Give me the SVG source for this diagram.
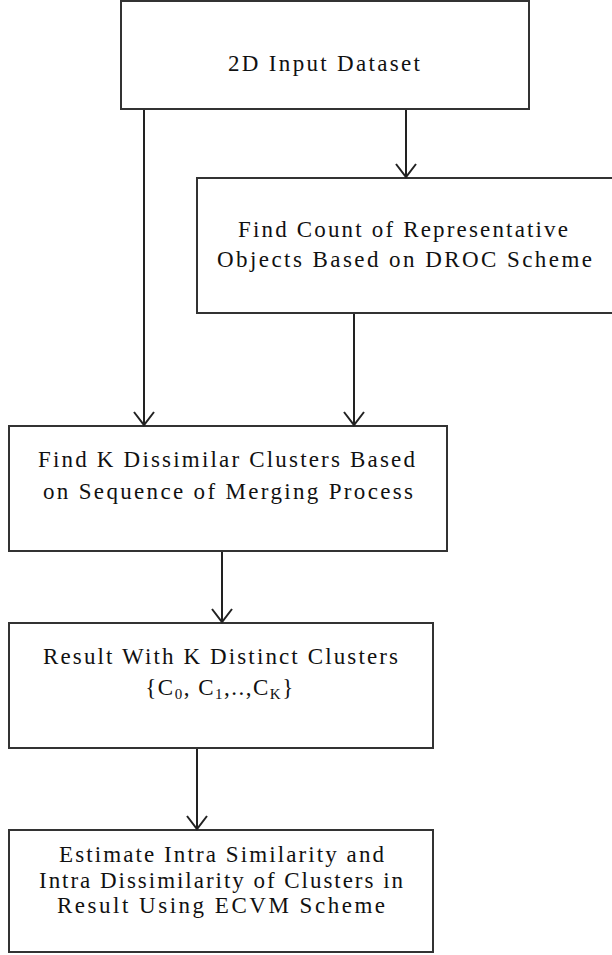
<svg xmlns="http://www.w3.org/2000/svg" width="612" height="955" viewBox="0 0 612 955">
<style>
  .box { fill: #ffffff; stroke: #333333; stroke-width: 2; }
  .lbl { font-family: "Liberation Serif", "Times New Roman", serif; font-size: 23px; fill: #111111; text-anchor: middle; }
  .conn { stroke: #222222; stroke-width: 2; fill: none; marker-end: url(#vhead); }
</style>
<defs>
  <marker id="vhead" markerUnits="userSpaceOnUse" markerWidth="30" markerHeight="30" refX="0" refY="0" orient="auto" viewBox="-15 -15 30 30" overflow="visible">
    <path d="M -13 -10 L 0 0 L -13 10" fill="none" stroke="#222222" stroke-width="2"/>
  </marker>
</defs>
<rect width="612" height="955" fill="#ffffff"/>

<g id="n1">
  <rect class="box" x="121" y="1" width="408" height="108"/>
  <text class="lbl" x="324" y="71" textLength="192" lengthAdjust="spacing">2D Input Dataset</text>
</g>

<g id="n2">
  <rect class="box" x="197" y="178" width="420" height="135"/>
  <text class="lbl" x="403" y="237" textLength="330" lengthAdjust="spacing">Find Count of Representative</text>
  <text class="lbl" x="404.5" y="267" textLength="375" lengthAdjust="spacing">Objects Based on DROC Scheme</text>
</g>

<g id="n3">
  <rect class="box" x="9" y="426" width="438" height="125"/>
  <text class="lbl" x="226.5" y="467" textLength="377" lengthAdjust="spacing">Find K Dissimilar Clusters Based</text>
  <text class="lbl" x="228" y="499" textLength="370" lengthAdjust="spacing">on Sequence of Merging Process</text>
</g>

<g id="n4">
  <rect class="box" x="9" y="623" width="424" height="125"/>
  <text class="lbl" x="220.5" y="664" textLength="355" lengthAdjust="spacing">Result With K Distinct Clusters</text>
  <text class="lbl" x="220" y="695" style="letter-spacing:1.5px">{C<tspan font-size="15" dy="4">0</tspan><tspan dy="-4">, C</tspan><tspan font-size="15" dy="4">1</tspan><tspan dy="-4">,..,C</tspan><tspan font-size="15" dy="4">K</tspan><tspan dy="-4">}</tspan></text>
</g>

<g id="n5">
  <rect class="box" x="9" y="830" width="424" height="122"/>
  <text class="lbl" x="221.5" y="862" textLength="325" lengthAdjust="spacing">Estimate Intra Similarity and</text>
  <text class="lbl" x="221" y="888" textLength="364" lengthAdjust="spacing">Intra Dissimilarity of Clusters in</text>
  <text class="lbl" x="221" y="913" textLength="328" lengthAdjust="spacing">Result Using ECVM Scheme</text>
</g>

<g id="connectors">
  <line class="conn" x1="144" y1="110" x2="144" y2="425"/>
  <line class="conn" x1="406" y1="110" x2="406" y2="177"/>
  <line class="conn" x1="354" y1="314" x2="354" y2="425"/>
  <line class="conn" x1="222" y1="552" x2="222" y2="622"/>
  <line class="conn" x1="197" y1="749" x2="197" y2="829"/>
</g>
</svg>
